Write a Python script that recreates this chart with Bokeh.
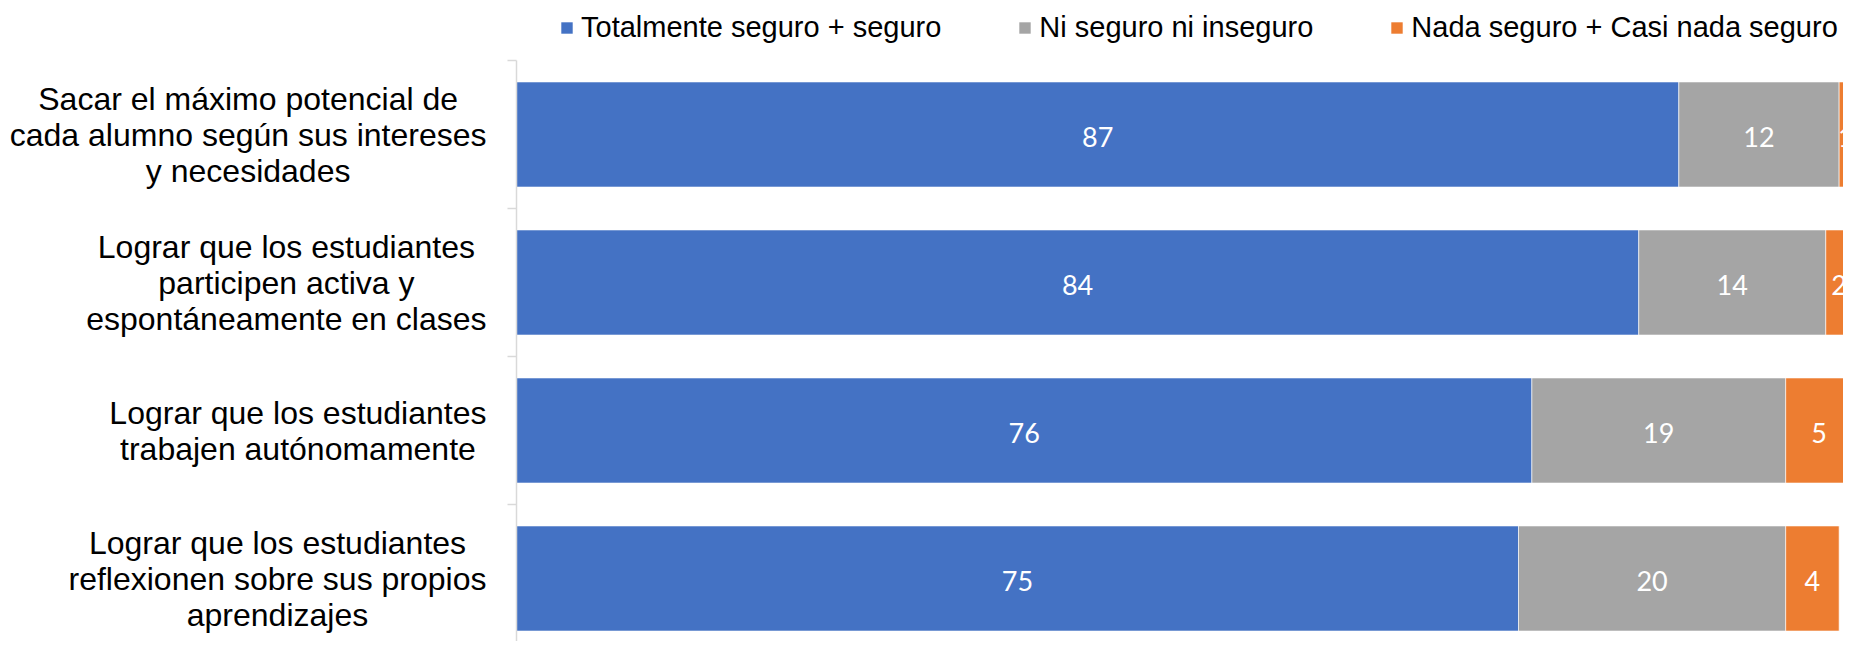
from bokeh.plotting import figure
from bokeh.models import ColumnDataSource, Range1d, Legend, LegendItem
from bokeh.core.properties import value
from bokeh.embed import file_html
from bokeh.resources import INLINE

# ---- data ----
categories = [
    "Sacar el máximo potencial de\ncada alumno según sus intereses\ny necesidades",
    "Lograr que los estudiantes\nparticipen activa y\nespontáneamente en clases",
    "Lograr que los estudiantes\ntrabajen autónomamente",
    "Lograr que los estudiantes\nreflexionen sobre sus propios\naprendizajes",
]
series_names = ["Totalmente seguro + seguro", "Ni seguro ni inseguro", "Nada seguro + Casi nada seguro"]
seguro = [87, 84, 76, 75]
ni_ni = [12, 14, 19, 20]
nada = [1, 2, 5, 4]
colors = ["#4472C4", "#A5A5A5", "#ED7D31"]

# ---- layout constants ----
W, H = 1843, 641
PX = 13.36          # pixels per percentage unit
AXIS_PX = 516       # axis position from canvas left
PITCH = 148         # pixels per category
FIRST_C = 134       # first category centre from canvas top

x0 = -AXIS_PX / PX
x1 = (W - AXIS_PX) / PX
ytop = -FIRST_C / PITCH
ybot = (H - FIRST_C) / PITCH

p = figure(width=W, height=H, output_backend="svg", toolbar_location=None,
           x_range=Range1d(x0, x1), y_range=Range1d(ybot, ytop),
           min_border=0, min_border_left=0, min_border_right=0,
           min_border_top=0, min_border_bottom=0)
p.xaxis.visible = False
p.yaxis.visible = False
p.grid.visible = False
p.outline_line_color = None
p.background_fill_color = "white"
p.border_fill_color = "white"

ys = list(range(len(categories)))
series = [seguro, ni_ni, nada]
left = [0] * len(categories)
renderers = []
for vals, col, name in zip(series, colors, series_names):
    right = [l + v for l, v in zip(left, vals)]
    src = ColumnDataSource(dict(y=ys, left=left, right=right,
                                mid=[(l + r) / 2 for l, r in zip(left, right)],
                                lab=[str(v) for v in vals]))
    r = p.hbar(y="y", left="left", right="right", height=0.71, source=src,
               fill_color=col, line_color="white", line_width=1, line_alpha=0.6)
    renderers.append(r)
    p.text(x="mid", y="y", text="lab", source=src, text_color="white",
           text_font=value("Lato"), text_font_size="27px",
           text_align="center", text_baseline="middle", y_offset=2)
    left = right

# axis line and outward ticks at category boundaries
bounds = [i - 0.5 for i in range(len(categories) + 1)]
p.segment(x0=[0], y0=[bounds[0]], x1=[0], y1=[bounds[-1]], line_color="#D9D9D9", line_width=1.5)
p.segment(x0=[-9 / PX] * len(bounds), y0=bounds, x1=[0] * len(bounds), y1=bounds,
          line_color="#D9D9D9", line_width=1.5)

# category labels: block right-aligned near the axis, lines centred
csrc = ColumnDataSource(dict(x=[0] * len(categories), y=ys, t=categories))
p.text(x="x", y="y", text="t", source=csrc, x_offset=-30, anchor="center_right",
       text_align="center", text_baseline="middle", text_color="black",
       text_font=value("Liberation Sans"), text_font_size="32px", text_line_height=1.0)

legend = Legend(items=[LegendItem(label=n, renderers=[r]) for n, r in zip(series_names, renderers)],
                orientation="horizontal", location=(559, 597),
                label_text_font="Liberation Sans", label_text_font_size="29px",
                label_text_color="black", glyph_width=15, glyph_height=15,
                label_standoff=7, spacing=76, padding=0, margin=0,
                border_line_color=None, background_fill_alpha=0)
p.add_layout(legend, "center")

open("out.html", "w").write(file_html(p, INLINE))
